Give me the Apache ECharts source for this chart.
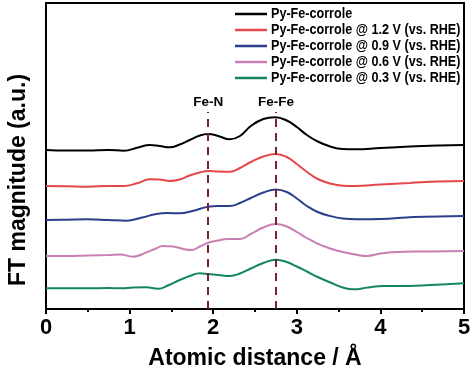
<!DOCTYPE html>
<html><head><meta charset="utf-8">
<script src="https://cdn.jsdelivr.net/npm/echarts@6/dist/echarts.min.js"></script>
<style>html,body{margin:0;padding:0;background:#fff}#c{width:474px;height:365px}</style>
</head><body><div id="c"></div>
<script>
const seriesNames = ['Py-Fe-corrole','Py-Fe-corrole @ 1.2 V (vs. RHE)','Py-Fe-corrole @ 0.9 V (vs. RHE)','Py-Fe-corrole @ 0.6 V (vs. RHE)','Py-Fe-corrole @ 0.3 V (vs. RHE)'];
const seriesColors = ['#000000','#e5474a','#2d3f8c','#c97fb4','#14875a'];
const blackData = [[0,159],[0.25,158.5],[0.5,158.5],[0.75,159],[0.93,158.3],[1.1,161.5],[1.24,164],[1.36,163],[1.48,161.7],[1.6,164.5],[1.72,169],[1.84,173.5],[1.94,175],[2.06,173],[2.2,169.7],[2.32,173],[2.45,183],[2.6,190],[2.74,191.7],[2.88,188.5],[3.0,182],[3.12,174],[3.25,167.5],[3.4,162.5],[3.55,160],[3.7,159.7],[4.0,161],[4.35,162.5],[4.7,163.5],[5,164]];
const redData = [[0,123],[0.25,122.7],[0.5,122.3],[0.75,123],[0.93,123],[1.1,126],[1.24,129.7],[1.36,129.5],[1.48,128],[1.6,129.5],[1.72,133.5],[1.84,136.5],[1.94,138],[2.06,137.5],[2.2,137.3],[2.32,141],[2.45,147],[2.6,152.5],[2.75,155],[2.88,152],[3.0,145],[3.12,137.3],[3.25,130],[3.4,125.5],[3.55,123.3],[3.7,123],[4.0,124.5],[4.35,126],[4.7,127.5],[5,128]];
const blueData = [[0,89],[0.25,89.3],[0.5,89.7],[0.75,89],[0.96,88.3],[1.15,91.5],[1.32,95],[1.45,96],[1.6,95.7],[1.75,98],[1.94,102.3],[2.06,103],[2.2,103],[2.32,106],[2.45,111],[2.6,116.5],[2.75,119.5],[2.88,117],[3.0,110.5],[3.12,103],[3.25,97],[3.4,93],[3.55,90.5],[3.72,89.7],[4.0,90],[4.4,92],[5,93]];
const pinkData = [[0,53],[0.25,53],[0.5,53.5],[0.75,54],[0.89,54.5],[1.04,52.3],[1.2,56.5],[1.3,60],[1.4,63],[1.52,62.5],[1.62,60.5],[1.74,59],[1.84,62.5],[1.94,66.3],[2.06,68.5],[2.17,70],[2.32,70],[2.45,75],[2.6,81.5],[2.75,85],[2.88,82.5],[3.0,77],[3.12,71],[3.24,65.7],[3.4,60.5],[3.55,57],[3.7,54.5],[3.84,53],[4.0,55.5],[4.2,57],[4.5,57.5],[5,58]];
const greenData = [[0,20.7],[0.25,20.7],[0.5,20.7],[0.75,21],[0.9,20.7],[1.04,21.5],[1.2,21.8],[1.34,20.2],[1.47,24],[1.6,29],[1.72,33],[1.84,35.7],[1.94,35],[2.06,34],[2.2,33],[2.32,35.5],[2.45,40.5],[2.6,46],[2.75,49.3],[2.88,47],[3.0,42.5],[3.12,37.5],[3.25,32],[3.4,26.5],[3.55,21.5],[3.68,19.7],[3.85,21.5],[4.03,23],[4.23,23],[4.6,24],[5,25.7]];
const peakPositions = [1.94, 2.75];
const peakLabels = ['Fe-N', 'Fe-Fe'];
const peakLineTop = 197;
const xTicks = [0,1,2,3,4,5];

const allData = [blackData, redData, blueData, pinkData, greenData];
const font = 'Liberation Sans, Arial, sans-serif';
const series = allData.map((d,i)=>({
  name: seriesNames[i], type:'line', data:d, smooth:0.45, showSymbol:false,
  lineStyle:{color:seriesColors[i], width:2}, itemStyle:{color:seriesColors[i]}, z:3
}));
series.push({
  type:'line', data:[], silent:true,
  markLine:{
    symbol:['none','none'], silent:true,
    lineStyle:{color:'#7a2035', type:[8,6], width:2},
    label:{show:true, position:'end', color:'#000', fontWeight:'bold', fontSize:13.5, fontFamily:font, distance:3},
    data: peakPositions.map((p,i)=>[{coord:[p,0], name:peakLabels[i], label:{formatter:peakLabels[i]}},{coord:[p,peakLineTop]}])
  }
});
// legend drawn as graphic (condensed text)
const legendRowY = [14, 30, 46, 62, 78];
const legendGraphics = [];
seriesNames.forEach((n,i)=>{
  legendGraphics.push({type:'line', shape:{x1:235,y1:legendRowY[i],x2:267,y2:legendRowY[i]}, style:{stroke:seriesColors[i], lineWidth:2.5}});
  legendGraphics.push({type:'text', x:271, y:legendRowY[i], scaleX:0.84, style:{text:n, font:'bold 15px Liberation Sans, Arial, sans-serif', fill:'#000', verticalAlign:'middle', align:'left'}});
});
const chart = echarts.init(document.getElementById('c'));
chart.setOption({
  animation:false,
  grid:{left:46, right:10, top:3, bottom:56, show:true, borderColor:'#000', borderWidth:2, outerBoundsMode:'none', containLabel:false},
  graphic: legendGraphics,
  xAxis:{type:'value', min:0, max:5, interval:1,
    axisLine:{show:true, lineStyle:{color:'#000', width:2}},
    axisTick:{show:true, inside:false, length:5, lineStyle:{color:'#000', width:2}},
    minorTick:{show:true, splitNumber:2, length:3, lineStyle:{color:'#000', width:2}},
    splitLine:{show:false},
    axisLabel:{fontFamily:font, fontWeight:'bold', fontSize:22, color:'#000', margin:8,
      formatter:v=> xTicks.includes(v) ? String(v) : ''},
    name:'Atomic distance / Å', nameLocation:'middle', nameGap:38,
    nameTextStyle:{fontFamily:font, fontWeight:'bold', fontSize:23, color:'#000'}
  },
  yAxis:{type:'value', min:0, max:306,
    axisLine:{show:true, lineStyle:{color:'#000', width:2}},
    axisTick:{show:false}, axisLabel:{show:false}, splitLine:{show:false},
    name:'FT magnitude (a.u.)', nameLocation:'middle', nameGap:16, nameRotate:90,
    nameTextStyle:{fontFamily:font, fontWeight:'bold', fontSize:23, color:'#000', padding:[0,48,0,0]}
  },
  series
});
</script></body></html>
